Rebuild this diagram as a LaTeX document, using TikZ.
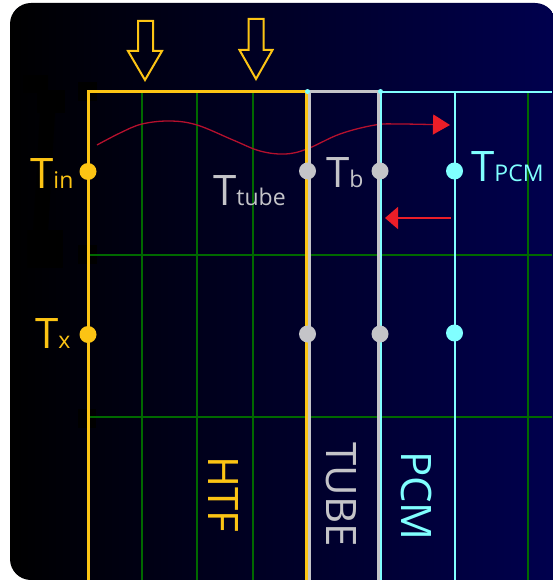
\documentclass[tikz,border=0pt]{standalone}
\usepackage{fontspec}
\setmainfont{Open Sans}
\usetikzlibrary{arrows.meta}
\definecolor{yel}{RGB}{252,196,20}
\definecolor{gry}{RGB}{196,196,200}
\definecolor{cyn}{RGB}{128,255,255}
\definecolor{grn}{RGB}{0,105,0}
\definecolor{navyb}{RGB}{0,0,78}
\definecolor{wavered}{RGB}{180,16,45}
\definecolor{headred}{RGB}{235,30,40}
\tikzset{
  dotnode/.style={circle, inner sep=0pt, minimum size=17pt, fill=#1},
  lbl/.style={anchor=base west, inner sep=0pt, text=#1},
  vlbl/.style={inner sep=0pt, rotate=-90, text=#1, font=\fontsize{42}{42}\selectfont},
  gridline/.style={grn, line width=1.2pt},
  downarrow/.style={yel, line width=2pt, line join=miter}
}
\newcommand{\bigT}[1]{\fontsize{42}{42}\selectfont #1}
\newcommand{\smlT}[1]{\fontsize{23}{23}\selectfont #1}
\begin{document}
\begin{tikzpicture}[x=1pt,y=-1pt]
\useasboundingbox (0,0) rectangle (552,580);
\fill[white] (0,0) rectangle (552,580);
% background panel
\shade[left color=black, right color=navyb]
  [rounded corners=21pt] (10,3) rectangle (556,580)
  [sharp corners] (300,300) rectangle (556,580);
% faint black artefacts
\fill[black] (23,75) rectangle (48,93);
\fill[black] (37,90) rectangle (65,113);
\fill[black] (40,113) -- (55,113) -- (48,232) -- (33,232) -- cycle;
\fill[black] (27,230) rectangle (63,268);
\fill[black] (78,82) rectangle (97,101);
\fill[black] (78,245) rectangle (97,264);
\fill[black] (78,409) rectangle (96,428);
% grid
\foreach \gx in {142,197,253,528} \draw[gridline] (\gx,92) -- (\gx,580);
\foreach \gy in {255,417} \draw[gridline] (89,\gy) -- (552,\gy);
% red wave arrow
\coordinate (ws) at (97,145);
\coordinate (we) at (450,125);
\draw[wavered, line width=1.3pt, -{Triangle[length=17pt,width=20pt,color=headred]}]
  plot[smooth, tension=0.6] coordinates {(ws) (120,133) (142,124) (170,121) (197,125) (233,140) (260,151) (285,154) (307,149) (340,134) (375,125) (400,124) (we)};
% boundaries
\draw[yel, line width=3pt, line join=miter] (88,580) -- (88,92) -- (306.5,92) -- (306.5,580);
\draw[gry, line width=3pt, line join=miter] (309.5,580) -- (309.5,92) -- (378.8,92) -- (378.8,580);
\draw[cyn, line width=2pt, line join=miter] (381.3,580) -- (381.3,92) -- (552,92);
\draw[cyn, line width=2pt] (454.5,92) -- (454.5,580);
\fill[cyn] (307.5,91.5) circle (2.5pt);
\fill[cyn] (380.5,91.5) circle (2.5pt);
% left red arrow
\coordinate (ls) at (451,218);
\coordinate (le) at (385,218);
\draw[headred, line width=1.5pt, -{Triangle[length=13pt,width=22pt]}] (ls) -- (le);
% heat flux arrows
\draw[downarrow] (138,21) -- (153,21) -- (153,51) -- (162,51) -- (145,80) -- (128,51) -- (138,51) -- cycle;
\draw[downarrow] (248.5,19) -- (263.5,19) -- (263.5,50) -- (272.5,50) -- (256,79) -- (239.5,50) -- (248.5,50) -- cycle;
% dots
\node[dotnode=yel] (tin) at (88,171.5) {};
\node[dotnode=yel] (tx) at (88,334.5) {};
\node[dotnode=gry] (tt1) at (307.5,171) {};
\node[dotnode=gry] (tb1) at (380,171) {};
\node[dotnode=gry] (tt2) at (307.5,334) {};
\node[dotnode=gry] (tb2) at (380,334) {};
\node[dotnode=cyn] (tp1) at (454.5,171) {};
\node[dotnode=cyn] (tp2) at (454.5,333) {};
% labels
\node[lbl=yel] (ltin) at (30,188) {\bigT{T}\smlT{in}};
\node[lbl=yel] (ltx) at (35,348) {\bigT{T}\smlT{x}};
\node[lbl=gry] (ltt) at (213,205) {\bigT{T}\smlT{tube}};
\node[lbl=gry] (ltb) at (326,187) {\bigT{T}\smlT{b}};
\node[lbl=cyn] (ltp) at (471,182) {\bigT{T}\smlT{PCM}};
\node[vlbl=yel] (htf) at (223,494) {HTF};
\node[vlbl=gry] (tube) at (341.5,494.5) {TUBE};
\node[vlbl=cyn] (pcm) at (416,496) {PCM};
\end{tikzpicture}
\end{document}
